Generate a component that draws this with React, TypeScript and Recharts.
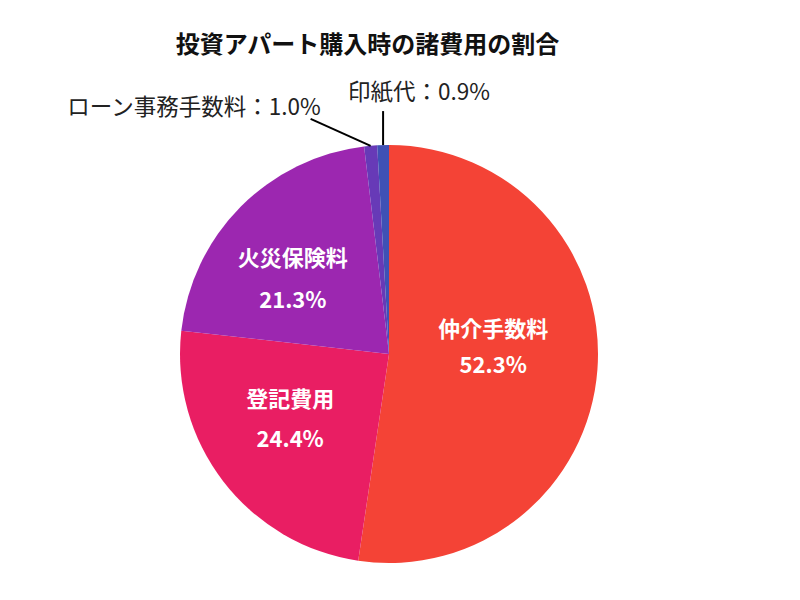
import React from 'react';
import { PieChart, Pie, Cell } from 'recharts';

const categories = ['仲介手数料', '登記費用', '火災保険料', 'ローン事務手数料', '印紙代'];
const shares = [52.3, 24.4, 21.3, 1.0, 0.9];
const colors = ['#F44336', '#E91E63', '#9C27B0', '#673AB7', '#3F51B5'];
const title = '投資アパート購入時の諸費用の割合';

const data = categories.map((name, i) => ({ name, value: shares[i] }));

const FONT = '"Noto Sans CJK JP", "Noto Sans", sans-serif';
const RAD = Math.PI / 180;

// per-slice label styling offsets (inside labels)
const insideOffsets: Record<number, { dx: number; dy1: number; dy2: number }> = {
  0: { dx: 0, dy1: -35, dy2: 1 },
  1: { dx: -16, dy1: -21, dy2: 19 },
  2: { dx: -22, dy1: -24, dy2: 18 },
};

const renderLabel = (props: any) => {
  const { cx, cy, midAngle, outerRadius, index, name, value } = props;
  const cos = Math.cos(-midAngle * RAD);
  const sin = Math.sin(-midAngle * RAD);
  if (index <= 2) {
    const r = outerRadius * 0.5;
    const x = cx + r * cos;
    const y = cy + r * sin;
    const o = insideOffsets[index];
    return (
      <g>
        <text x={x + o.dx} y={y + o.dy1} fill="#fff" fontSize={22} fontWeight="bold"
          fontFamily={FONT} textAnchor="middle" dominantBaseline="central">{name}</text>
        <text x={x + o.dx} y={y + o.dy2} fill="#fff" fontSize={22} fontWeight="bold"
          fontFamily={FONT} textAnchor="middle" dominantBaseline="central">{`${value.toFixed(1)}%`}</text>
      </g>
    );
  }
  const ex = cx + outerRadius * cos;
  const ey = cy + outerRadius * sin;
  if (index === 3) {
    const lx = ex - 60;
    const ly = ey - 27;
    return (
      <g>
        <line x1={ex} y1={ey} x2={lx} y2={ly} stroke="#000" strokeWidth={2} />
        <text x={lx + 10} y={ly - 14} fill="#222" fontSize={22.5} fontFamily={FONT}
          textAnchor="end" dominantBaseline="central">{`${name}：${value.toFixed(1)}%`}</text>
      </g>
    );
  }
  const lx = ex;
  const ly = ey - 34;
  return (
    <g>
      <line x1={ex} y1={ey} x2={lx} y2={ly} stroke="#000" strokeWidth={2} />
      <text x={lx - 35} y={ly - 21} fill="#222" fontSize={22.5} fontFamily={FONT}
        textAnchor="start" dominantBaseline="central">{`${name}：${value.toFixed(1)}%`}</text>
    </g>
  );
};

export default function App() {
  return (
    <div style={{ position: 'absolute', left: 0, top: 0, width: 800, height: 600, background: '#fff' }}>
      <PieChart width={800} height={600} margin={{ top: 0, right: 0, bottom: 0, left: 0 }}>
        <text x={367.5} y={42} textAnchor="middle" dominantBaseline="central" fontSize={24}
          fontWeight="bold" fontFamily={FONT} fill="#111">{title}</text>
        <Pie
          data={data}
          dataKey="value"
          nameKey="name"
          cx={389}
          cy={354}
          outerRadius={209}
          startAngle={90}
          endAngle={-270}
          stroke="none"
          label={renderLabel}
          labelLine={false}
          isAnimationActive={false}
        >
          {data.map((d, i) => (
            <Cell key={d.name} fill={colors[i]} />
          ))}
        </Pie>
      </PieChart>
    </div>
  );
}
